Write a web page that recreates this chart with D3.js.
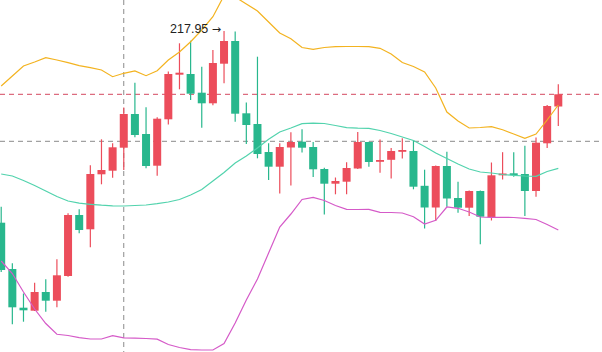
<!DOCTYPE html>
<html>
<head>
<meta charset="utf-8">
<script src="https://cdn.jsdelivr.net/npm/d3@7/dist/d3.min.js"></script>
<style>
  html, body { margin: 0; padding: 0; background: #fff; }
  svg { display: block; }
</style>
</head>
<body>
<div id="chart"></div>
<script>
// daily candles, price values
const opens  = [198.78,194.15,190.28,189.98,191.85,190.98,193.45,199.55,198.12,203.62,203.98,206.28,209.65,207.65,204.48,209.12,213.58,213.65,211.78,210.72,214.68,216.95,209.72,208.65,205.85,204.38,206.30,206.88,206.35,204.15,202.68,202.88,204.20,206.85,204.90,205.07,205.88,205.95,202.47,200.30,204.45,201.25,200.28,201.95,199.32,203.52,203.72,203.65,201.95,206.72,210.40];
const closes = [194.05,190.32,190.02,191.85,190.98,193.52,199.55,198.05,203.65,204.05,206.32,209.65,207.55,204.45,209.18,213.65,213.78,211.68,210.72,214.75,216.95,209.68,208.55,205.65,204.38,206.35,206.85,206.28,204.12,202.68,202.95,204.25,206.85,204.85,205.05,205.95,206.05,202.38,200.30,204.45,201.20,200.28,201.95,199.38,203.52,203.70,203.55,201.95,206.78,210.45,211.62];
const highs  = [200.38,194.72,191.70,192.78,193.12,195.12,199.72,200.12,204.52,207.12,206.72,210.30,212.78,210.32,209.32,213.90,216.72,216.98,214.38,216.05,217.95,217.90,210.80,215.38,206.72,206.72,207.82,208.12,206.85,204.28,203.30,204.82,207.85,206.88,207.10,206.25,207.22,207.02,204.08,204.50,205.88,202.88,202.00,202.00,204.80,205.83,205.83,206.48,207.30,210.55,212.62];
const lows   = [193.85,188.62,188.88,189.95,189.88,190.32,193.38,197.72,196.32,202.62,203.28,204.05,207.32,204.22,203.48,208.60,212.12,211.05,208.28,210.52,212.72,208.88,206.65,205.22,203.05,201.70,202.50,205.80,203.35,199.60,201.62,201.62,204.15,204.38,203.78,203.20,205.20,202.12,198.20,198.95,200.38,199.78,199.45,196.62,199.00,203.10,203.38,199.45,201.38,206.25,208.45];

// bollinger bands
const upperBand = [212.45,213.45,214.45,214.85,215.28,215.05,214.78,214.48,214.28,214.05,213.38,213.72,213.95,213.48,213.98,215.05,215.85,216.88,218.05,219.38,221.49,221.35,220.65,219.95,218.85,217.75,217.18,216.30,216.12,216.30,216.38,216.40,216.40,216.38,216.22,215.65,214.80,214.40,213.85,212.25,209.85,208.95,208.25,208.30,208.38,208.08,207.65,207.22,207.65,209.05,210.55];
const midBand   = [203.65,203.45,203.00,202.50,201.95,201.40,200.95,200.73,200.62,200.53,200.47,200.45,200.50,200.55,200.68,200.85,201.10,201.55,202.10,202.95,203.80,204.75,205.45,206.25,207.12,207.85,208.25,208.68,208.73,208.70,208.50,208.28,208.23,208.22,208.00,207.70,207.35,207.00,206.40,205.75,205.20,204.65,204.15,203.85,203.75,203.60,203.52,203.45,203.42,203.90,204.22];
const lowerBand = [194.95,193.70,191.85,190.15,188.70,187.62,187.50,187.28,187.15,187.15,187.48,187.27,187.23,187.20,187.13,186.60,186.30,186.08,186.05,186.05,186.70,188.75,191.05,193.15,195.75,198.35,199.65,201.10,201.32,201.00,200.50,200.12,200.10,200.12,199.82,199.80,199.75,199.38,198.65,199.02,200.35,200.22,199.85,199.35,199.32,199.32,199.30,199.22,199.10,198.60,198.05];

// crosshair position (candle index, price)
const crosshairIndex = 11;
const crosshairPrice = 206.92;

const upColor = "#ec4d5b";
const downColor = "#28b78d";

const width = 602, height = 352;
const n = opens.length;
const candles = d3.range(n).map((i) => ({
    i: i, open: opens[i], close: closes[i], high: highs[i], low: lows[i]
}));

const x = d3.scalePoint()
    .domain(d3.range(n))
    .range([1.2, 558.3]);

const y = d3.scaleLinear()
    .domain([185.85, 221.05])
    .range([height, 0]);

const bodyWidth = 8;

const svg = d3.select("#chart")
    .append("svg")
    .attr("width", width)
    .attr("height", height);

// crosshair and last price lines
svg.append("line")
    .attr("x1", x(crosshairIndex)).attr("x2", x(crosshairIndex))
    .attr("y1", 0).attr("y2", height)
    .attr("stroke", "#8a8a8a").attr("stroke-width", 1)
    .attr("stroke-dasharray", "5,4");

svg.append("line")
    .attr("x1", 0).attr("x2", width)
    .attr("y1", y(crosshairPrice)).attr("y2", y(crosshairPrice))
    .attr("stroke", "#8a8a8a").attr("stroke-width", 1)
    .attr("stroke-dasharray", "5,4");

const lastClose = closes[n - 1];
svg.append("line")
    .attr("x1", 0).attr("x2", width)
    .attr("y1", y(lastClose)).attr("y2", y(lastClose))
    .attr("stroke", "#d4485f").attr("stroke-width", 1)
    .attr("stroke-dasharray", "5,4");

// candles
const candle = svg.append("g")
    .selectAll("g")
    .data(candles)
    .enter()
    .append("g")
    .attr("fill", (d) => d.close >= d.open ? upColor : downColor)
    .attr("stroke", (d) => d.close >= d.open ? upColor : downColor);

candle.append("line")
    .attr("x1", (d) => x(d.i)).attr("x2", (d) => x(d.i))
    .attr("y1", (d) => y(d.high)).attr("y2", (d) => y(d.low))
    .attr("stroke-width", 1.2);

candle.append("rect")
    .attr("x", (d) => x(d.i) - bodyWidth / 2)
    .attr("width", bodyWidth)
    .attr("y", (d) => y(Math.max(d.open, d.close)))
    .attr("height", (d) => Math.max(1.8, Math.abs(y(d.open) - y(d.close))))
    .attr("stroke", "none");

// bands on top of the candles
const bandLine = (values) => d3.line()
    .x((_, i) => x(i))
    .y((v) => y(v))(values);

[[upperBand, "#f3b320"], [midBand, "#52d3ad"], [lowerBand, "#d55ac8"]].forEach(([values, color]) => {
    svg.append("path")
        .attr("d", bandLine(values))
        .attr("fill", "none")
        .attr("stroke", color)
        .attr("stroke-width", 1.2);
});

// highest price marker
const maxIdx = d3.maxIndex(highs);
const label = svg.append("text")
    .attr("x", x(maxIdx) - 3)
    .attr("y", y(highs[maxIdx]) + 2)
    .attr("text-anchor", "end")
    .attr("font-family", "Liberation Sans, Arial, sans-serif")
    .attr("font-size", 12.5)
    .attr("fill", "#222");
label.append("tspan").text(d3.format(".2f")(highs[maxIdx]) + " ");
label.append("tspan")
    .attr("font-family", "DejaVu Sans, sans-serif")
    .attr("font-size", 11)
    .text("\u2192");
</script>
</body>
</html>
